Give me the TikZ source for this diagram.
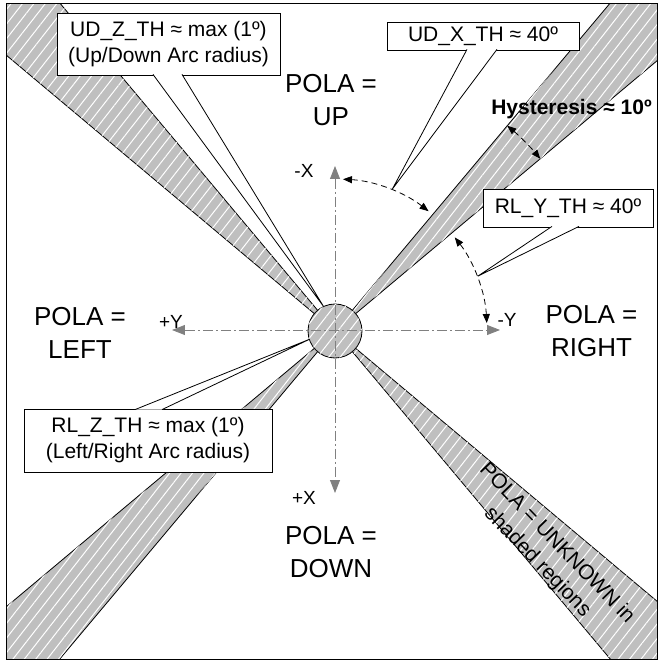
\documentclass[tikz,border=0pt]{standalone}
\usepackage{fontspec}
\setmainfont{Liberation Sans}
\usetikzlibrary{arrows.meta,patterns.meta}

\begin{document}
\begin{tikzpicture}[x=1pt,y=1pt,>={Triangle[length=9pt,width=7pt]}]
	\tikzstyle{region} = [draw=black,line width=0.8pt,fill=gray!50,postaction={pattern={Lines[angle=52,distance=9pt,line width=1pt]},pattern color=white}];
	\tikzstyle{axisline} = [gray,line width=0.8pt,dash pattern=on 10pt off 3pt on 2pt off 3pt,{Triangle[length=13pt,width=10pt]}-{Triangle[length=13pt,width=10pt]}];
	\tikzstyle{anglearc} = [black,line width=0.8pt,dash pattern=on 6pt off 4pt,<->];
	\tikzstyle{notebox} = [draw=black,fill=white,line width=0.8pt,inner sep=0pt,outer sep=0pt,align=center,font=\fontsize{21}{26}\selectfont];
	\tikzstyle{noteptr} = [draw=black,fill=white,line width=0.8pt];
	\tikzstyle{pola} = [inner sep=0pt,align=center,font=\fontsize{26}{33}\selectfont];
	\tikzstyle{axislabel} = [inner sep=0pt,font=\fontsize{19}{22}\selectfont];
	\useasboundingbox (-335,331) rectangle (323,-330);

	% shaded regions
	\coordinate (c) at (0,0);
	\begin{scope}
		\clip (-328.5,327.5) rectangle (322.5,-328);
		\foreach \a in {45,135,225,315}
			\draw[region] (c) -- (\a-5:700) -- (\a+5:700) -- cycle;
	\end{scope}
	\node[region,circle,minimum size=54pt,inner sep=0pt] (hub) at (c) {};

	% axes
	\coordinate (xneg) at (0,165);
	\coordinate (xpos) at (0,-162);
	\coordinate (ypos) at (-163,1);
	\coordinate (yneg) at (165,1);
	\draw[axisline] (xneg) -- (xpos);
	\draw[axisline] (ypos) -- (yneg);
	\node[axislabel] (lxneg) at (-31,160) {-X};
	\node[axislabel] (lypos) at (-164,9) {+Y};
	\node[axislabel] (lyneg) at (172,11) {-Y};
	\node[axislabel] (lxpos) at (-31,-167) {+X};

	% thresholds
	\coordinate (udfrom) at (87:152);
	\coordinate (rlfrom) at (38:152);
	\coordinate (hyfrom) at (50:268);
	\draw[anglearc] (udfrom) arc[start angle=87,end angle=52,radius=152];
	\draw[anglearc] (rlfrom) arc[start angle=38,end angle=3,radius=152];
	\draw[anglearc] (hyfrom) arc[start angle=50,end angle=40,radius=268];
	\node[font=\bfseries\fontsize{21}{26}\selectfont,inner sep=0pt,anchor=base] (hyst) at (236.5,216) {Hysteresis ≈ 10º};

	% callouts
	\coordinate (udztip) at (115:27);
	\coordinate (udxtip) at (68:153);
	\coordinate (rlytip) at (21:153);
	\coordinate (rlztip) at (198:27);
	\node[notebox,minimum width=223pt,minimum height=62pt] (udz) at (-166.5,287) {UD\_Z\_TH ≈ max (1º)\\(Up/Down Arc radius)};
	\draw[noteptr] ([xshift=-15.5pt,yshift=0.6pt]udz.south) -- (udztip) -- ([xshift=13.5pt,yshift=0.6pt]udz.south);
	\node[notebox,minimum width=192pt,minimum height=28pt] (udx) at (148,295) {UD\_X\_TH ≈ 40º};
	\draw[noteptr] ([xshift=-16pt,yshift=0.6pt]udx.south) -- (udxtip) -- ([xshift=14pt,yshift=0.6pt]udx.south);
	\node[notebox,minimum width=170pt,minimum height=38pt] (rly) at (233,123) {RL\_Y\_TH ≈ 40º};
	\draw[noteptr] ([xshift=-16pt,yshift=0.6pt]rly.south) -- (rlytip) -- ([xshift=11pt,yshift=0.6pt]rly.south);
	\node[notebox,minimum width=248pt,minimum height=63pt] (rlz) at (-187,-109.5) {RL\_Z\_TH ≈ max (1º)\\(Left/Right Arc radius)};
	\draw[noteptr] ([xshift=-13pt,yshift=-0.6pt]rlz.north) -- (rlztip) -- ([xshift=14pt,yshift=-0.6pt]rlz.north);

	% orientation labels
	\node[pola] (polaup) at (-4,231) {POLA =\\UP};
	\node[pola] (polaleft) at (-255,-1.5) {POLA =\\LEFT};
	\node[pola] (polaright) at (256.5,-0.5) {POLA =\\RIGHT};
	\node[pola] (poladown) at (-4,-221) {POLA =\\DOWN};
	\node[inner sep=0pt,align=center,rotate=-46,font=\fontsize{21}{27}\selectfont] (unknown) at (212,-222) {POLA = UNKNOWN in\\shaded regions};

	\draw[line width=1pt] (-328.5,327.5) rectangle (322.5,-328);
\end{tikzpicture}
\end{document}
